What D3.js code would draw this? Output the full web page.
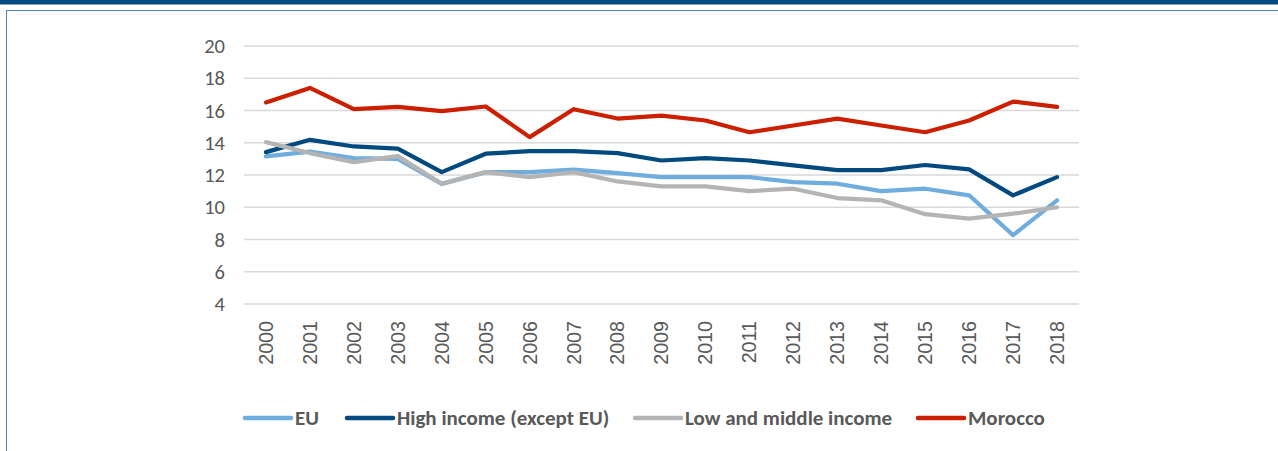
<!DOCTYPE html>
<html><head><meta charset="utf-8">
<script src="https://cdn.jsdelivr.net/npm/d3@7"></script>
<style>
html,body{margin:0;padding:0;background:#fff;}
svg{display:block;font-family:Calibri,Carlito,"Open Sans","Noto Sans",sans-serif;}
</style></head>
<body>
<svg id="chart" width="1278" height="451"></svg>
<script>
const years = ["2000","2001","2002","2003","2004","2005","2006","2007","2008","2009","2010","2011","2012","2013","2014","2015","2016","2017","2018"];
const eu = [13.15,13.45,13.05,13.0,11.45,12.18,12.18,12.33,12.12,11.87,11.87,11.87,11.56,11.46,11.0,11.15,10.74,8.27,10.43];
const highIncome = [13.42,14.18,13.77,13.63,12.18,13.32,13.48,13.48,13.36,12.9,13.05,12.9,12.6,12.3,12.3,12.62,12.35,10.74,11.87];
const lowMiddle = [14.04,13.36,12.8,13.17,11.46,12.18,11.87,12.18,11.6,11.3,11.3,11.0,11.15,10.57,10.43,9.57,9.3,9.6,10.0];
const morocco = [16.5,17.4,16.08,16.22,15.96,16.25,14.35,16.08,15.5,15.68,15.38,14.65,15.07,15.5,15.07,14.65,15.38,16.55,16.22];
const yTicks = [4,6,8,10,12,14,16,18,20];
const seriesNames = ["EU","High income (except EU)","Low and middle income","Morocco"];
const seriesColors = ["#6fadde","#004a80","#b4b4b4","#cc1f00"];
const seriesData = [eu, highIncome, lowMiddle, morocco];

const svg = d3.select("#chart");
// frame
svg.append("rect").attr("x",0).attr("y",0).attr("width",1278).attr("height",4.5).attr("fill","#004a80");
svg.append("rect").attr("x",6.5).attr("y",10.5).attr("width",1290).attr("height",460)
  .attr("fill","none").attr("stroke","#4f86bb").attr("stroke-width",1);

const x = d3.scaleBand().domain(years).range([244,1079]);
const y = d3.scaleLinear().domain([4,20]).range([304,46]);

// gridlines
svg.append("g").selectAll("line").data(yTicks).join("line")
  .attr("x1",244).attr("x2",1079)
  .attr("y1",d=>y(d)).attr("y2",d=>y(d))
  .attr("stroke","#d9d9d9").attr("stroke-width",1.5);

// y axis
const yAxis = svg.append("g").attr("transform","translate(244,0)")
  .call(d3.axisLeft(y).tickValues(yTicks).tickSize(0).tickPadding(19));
yAxis.select(".domain").remove();
yAxis.selectAll("text").attr("font-size",20.5).attr("fill","#595959")
  .attr("font-family","Calibri,Carlito,'Open Sans',sans-serif");

// x axis
const xAxis = svg.append("g").attr("transform","translate(0,304)")
  .call(d3.axisBottom(x).tickSize(0).tickPadding(0));
xAxis.select(".domain").remove();
xAxis.selectAll("text")
  .attr("font-size",19.7).attr("fill","#595959")
  .attr("text-anchor","end")
  .attr("transform","translate(0,17) rotate(-90)")
  .attr("dy","0.35em").attr("x",0).attr("y",0);

// lines
const line = d3.line().x((d,i)=>x(years[i])+x.bandwidth()/2).y(d=>y(d));
svg.append("g").selectAll("path").data(seriesData).join("path")
  .attr("d",d=>line(d)).attr("fill","none")
  .attr("stroke",(d,i)=>seriesColors[i]).attr("stroke-width",4.2)
  .attr("stroke-linejoin","round").attr("stroke-linecap","round");

// legend
const legX = [243,345,633,916];
const lg = svg.append("g");
seriesNames.forEach((n,i)=>{
  lg.append("line").attr("x1",legX[i]+2).attr("x2",legX[i]+48).attr("y1",418).attr("y2",418)
    .attr("stroke",seriesColors[i]).attr("stroke-width",4.5).attr("stroke-linecap","round");
  lg.append("text").attr("x",legX[i]+52).attr("y",418).attr("dy","0.35em")
    .attr("font-size",21).attr("font-weight","bold").attr("fill","#595959").text(n);
});
</script>
</body></html>
